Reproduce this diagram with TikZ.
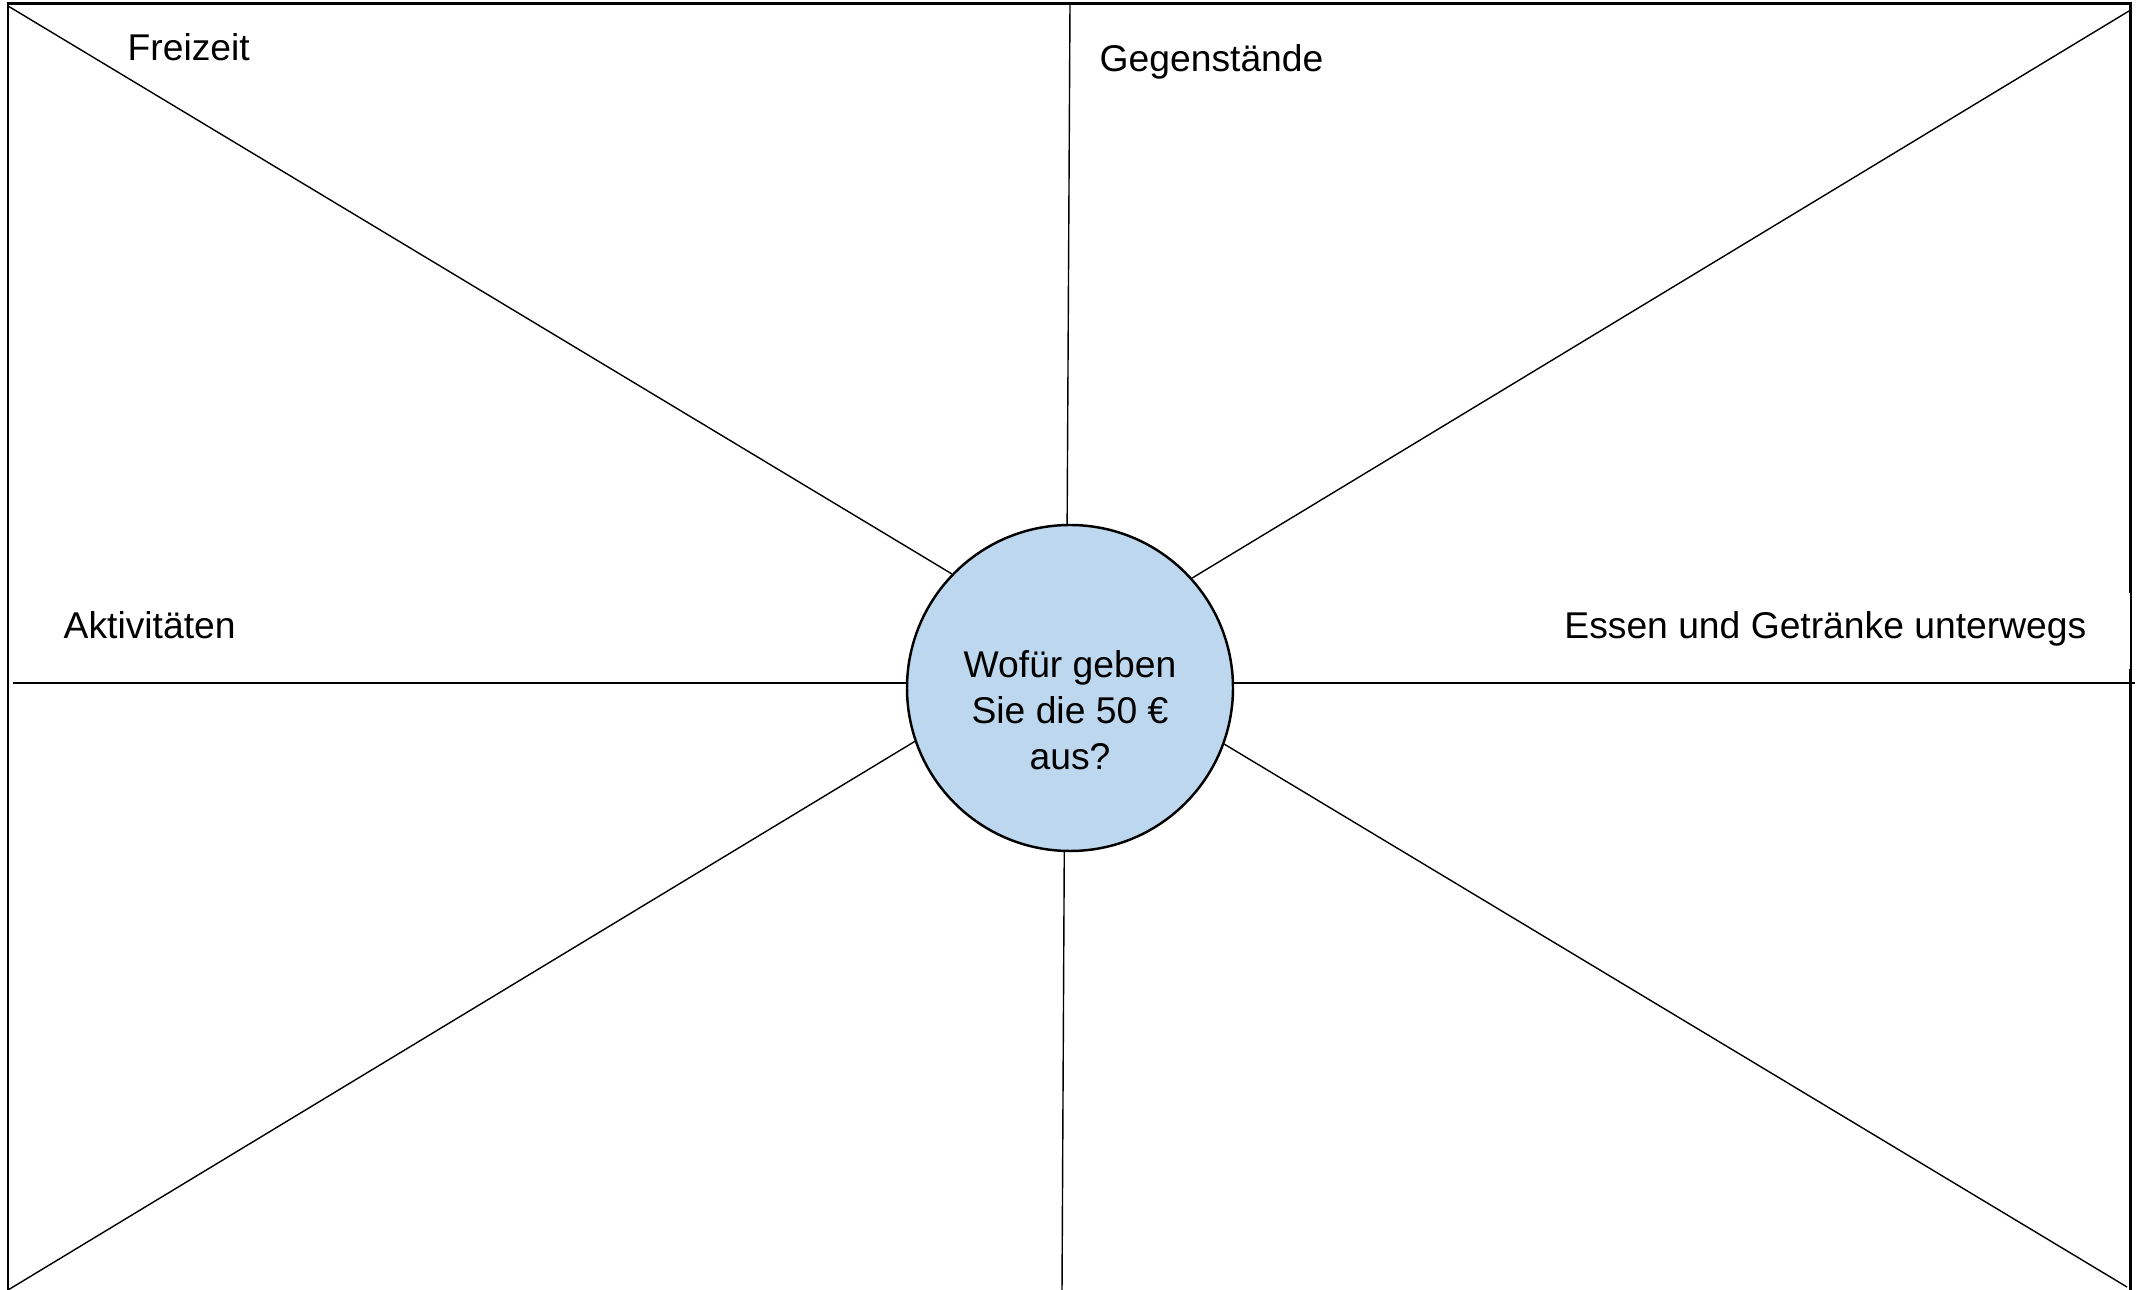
\documentclass[tikz,border=0pt]{standalone}
\usepackage{fontspec}
\setmainfont{Liberation Sans}
\definecolor{kreisblau}{HTML}{BDD7EE}
\tikzset{
	speiche/.style={line width=0.4pt},
	feld/.style={anchor=base west,inner sep=0pt,font=\fontsize{10.6}{12.8}\selectfont}
}
\begin{document}
\begin{tikzpicture}
			\useasboundingbox (0,0) rectangle (21.41,12.9);
			
			\draw[line width=0.85pt] (0.08,-0.05) rectangle (21.30,12.86);
			
			\coordinate (ol) at (0.08,12.84);
			\coordinate (or) at (21.29,12.79);
			\coordinate (ul) at (0.08,0);
			\coordinate (ur) at (21.27,0.03);
			\coordinate (om) at (10.70,12.86);
			\coordinate (um) at (10.62,-0.02);
			\coordinate (ml) at (0.13,6.07);
			\coordinate (mr) at (21.35,6.07);
			
			\node[circle,draw,line width=0.7pt,fill=kreisblau,minimum size=3.26cm,inner sep=0pt,
				align=center,text height=1.64cm,font=\fontsize{10.6}{13.2}\selectfont] (frage) at (10.70,6.02)
				{Wofür geben\\Sie die 50 €\\aus?};
			
			\draw[speiche] (ol) -- (frage.136.5);
			\draw[speiche] (or) -- (frage.42.8);
			\draw[speiche] (ul) -- (frage.199.5);
			\draw[speiche] (ur) -- (frage.340.8);
			\draw[speiche] (om) -- (frage.91);
			\draw[speiche] (um) -- (frage.268.5);
			\draw[speiche] (ml) -- (ml -| frage.west);
			\draw[speiche] (mr) -- (mr -| frage.east);
			
			\node[feld] (freizeit) at (1.27,12.29) {Freizeit};
			\node[feld] (gegenstaende) at (10.99,12.18) {Gegenstände};
			\node[feld] (aktiv) at (0.63,6.51) {Aktivitäten};
			\node[feld,anchor=base east,fill=white,inner xsep=0.435cm,inner ysep=0pt,
				text height=0.46cm,text depth=0.30cm] (essen) at (21.305,6.51) {Essen und Getränke unterwegs};
	
		\end{tikzpicture}
\end{document}
